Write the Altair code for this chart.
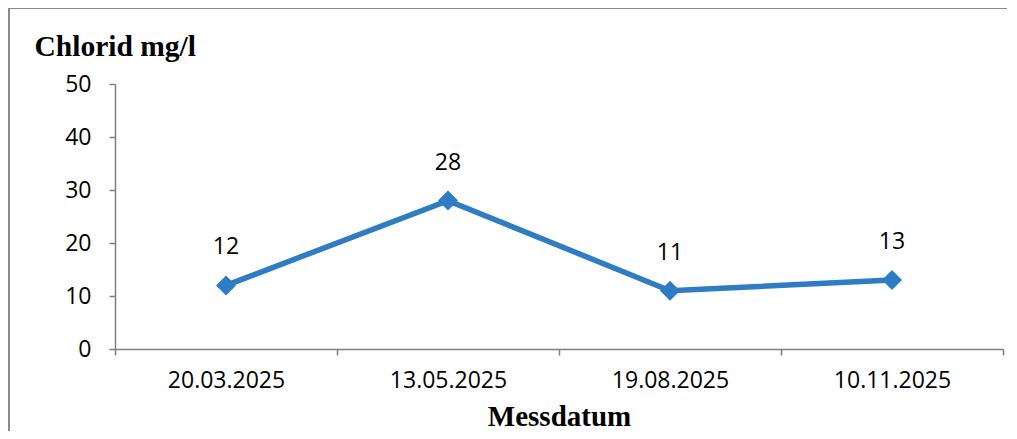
import altair as alt
import pandas as pd

dates = ["20.03.2025", "13.05.2025", "19.08.2025", "10.11.2025"]
values = [12, 28, 11, 13]

df = pd.DataFrame({"Messdatum": dates, "Chlorid": values})

BLUE = "#2e7cc4"
LABEL_FONT = "Open Sans"
TITLE_FONT = "Liberation Serif"

x_enc = alt.X(
    "Messdatum:N",
    sort=dates,
    bandPosition=0.5,
    scale=alt.Scale(type="band", paddingInner=0, paddingOuter=0),
    axis=alt.Axis(
        title="Messdatum",
        titleFont=TITLE_FONT,
        titleFontSize=29,
        titleFontWeight="bold",
        titleColor="black",
        titlePadding=10,
        labelFont=LABEL_FONT,
        labelFontSize=23,
        labelColor="black",
        labelPadding=14,
        labelAngle=0,
        tickBand="extent",
        tickSize=6,
        tickColor="#7f7f7f",
        domainColor="#7f7f7f",
        domainWidth=1.5,
        tickWidth=1.5,
        grid=False,
    ),
)

y_enc = alt.Y(
    "Chlorid:Q",
    scale=alt.Scale(domain=[0, 50], nice=False),
    axis=alt.Axis(
        values=[0, 10, 20, 30, 40, 50],
        title="Chlorid mg/l",
        titleFont=TITLE_FONT,
        titleFontSize=29.5,
        titleFontWeight="bold",
        titleColor="black",
        titleAngle=0,
        titleAlign="left",
        titleBaseline="middle",
        titleX=-81,
        titleY=-38,
        labelFont=LABEL_FONT,
        labelFontSize=23,
        labelColor="black",
        labelPadding=18,
        tickSize=6,
        tickColor="#7f7f7f",
        domainColor="#7f7f7f",
        domainWidth=1.5,
        tickWidth=1.5,
        grid=False,
    ),
)

base = alt.Chart(df)

line = base.mark_line(color=BLUE, strokeWidth=5.5).encode(x=x_enc, y=y_enc)
points = base.mark_point(
    shape="diamond", filled=True, color=BLUE, size=400, opacity=1
).encode(x=x_enc, y=y_enc)
labels = base.mark_text(
    font=LABEL_FONT, fontSize=23, color="black", dy=-38, baseline="middle"
).encode(x=x_enc, y=y_enc, text="Chlorid:Q")

frame_left = alt.Chart(pd.DataFrame({"a": [0]})).mark_rule(
    color="#8a8a8a", strokeWidth=2
).encode(x=alt.value(-106), y=alt.value(-76), y2=alt.value(360))
frame_top = alt.Chart(pd.DataFrame({"a": [0]})).mark_rule(
    color="#8a8a8a", strokeWidth=2
).encode(x=alt.value(-106), x2=alt.value(892), y=alt.value(-76))

chart = (
    alt.layer(frame_left, frame_top, line, points, labels)
    .properties(
        width=888,
        height=265,
        autosize=alt.AutoSizeParams(type="none"),
        padding={"left": 107, "top": 76, "right": 4, "bottom": 82},
        background="#ffffff",
    )
    .configure_view(stroke=None)
)

chart.save("out.html", embed_options={"renderer": "svg", "actions": False})
